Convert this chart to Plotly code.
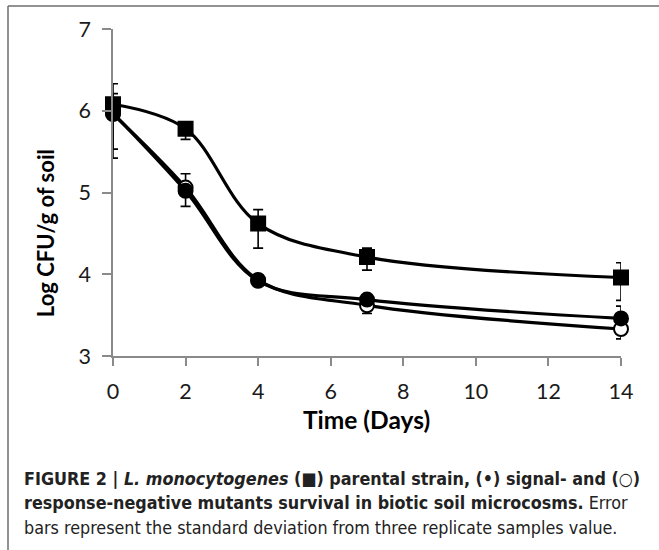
import plotly.graph_objects as go

# ---- data ----
days = [0, 2, 4, 7, 14]

parental = [6.08, 5.78, 4.62, 4.21, 3.96]
parental_plus = [0.05, 0.08, 0.17, 0.11, 0.18]
parental_minus = [0.05, 0.13, 0.30, 0.16, 0.28]

signal_neg = [5.97, 5.02, 3.92, 3.69, 3.46]
signal_plus = [0.36, 0.05, 0.05, 0.05, 0.15]
signal_minus = [0.55, 0.05, 0.05, 0.05, 0.05]

response_neg = [5.96, 5.06, 3.93, 3.62, 3.33]
response_plus = [0.25, 0.17, 0.05, 0.08, 0.05]
response_minus = [0.43, 0.23, 0.05, 0.10, 0.12]

x_ticks = [0, 2, 4, 6, 8, 10, 12, 14]
y_ticks = [3, 4, 5, 6, 7]

x_title = "Time (Days)"
y_title = "Log CFU/g of soil"
caption_lines = [
    "<b>FIGURE 2 | <i>L. monocytogenes</i> (■) parental strain, (•) signal- and (○)</b>",
    "<b>response-negative mutants survival in biotic soil microcosms.</b> Error",
    "bars represent the standard deviation from three replicate samples value.",
]

# ---- layout geometry ----
W, H = 659, 550
PL, PR, PT, PB = 113, 621, 29, 355.7


def px_x(px):
    return (px - PL) / (PR - PL)


def px_y(py):
    return (PB - py) / (PB - PT)


AX = "#8a8a8a"
TICKFONT = dict(family="Lato, Open Sans, sans-serif", size=21.5, color="#1a1a1a")

fig = go.Figure()


def add_series(y, plus, minus, symbol, fill, name):
    fig.add_trace(go.Scatter(
        x=days, y=y, name=name, mode="lines+markers",
        line=dict(color="black", width=3.2, shape="spline", smoothing=1.0),
        marker=dict(symbol=symbol, size=14, color=fill,
                    line=dict(color="black", width=2)),
        error_y=dict(type="data", symmetric=False, array=plus, arrayminus=minus,
                     color="black", thickness=1.6, width=5),
        cliponaxis=False,
        showlegend=False,
    ))


add_series(response_neg, response_plus, response_minus, "circle", "white", "response-negative")
add_series(signal_neg, signal_plus, signal_minus, "circle", "black", "signal-negative")
add_series(parental, parental_plus, parental_minus, "square", "black", "parental")

fig.update_layout(
    width=W, height=H, autosize=False,
    margin=dict(l=PL, r=W - PR, t=PT, b=H - PB, pad=0),
    paper_bgcolor="white", plot_bgcolor="white",
    xaxis=dict(
        range=[0, 14], tickvals=x_ticks, ticks="outside", ticklen=8,
        tickwidth=1.6, tickcolor=AX, showline=True, linecolor=AX, linewidth=1.6,
        showgrid=False, zeroline=False, tickfont=TICKFONT, ticklabelstandoff=7,
    ),
    yaxis=dict(
        range=[3, 7], tickvals=y_ticks, ticks="outside", ticklen=9,
        tickwidth=1.6, tickcolor=AX, showline=True, linecolor=AX, linewidth=1.6,
        showgrid=False, zeroline=False, tickfont=TICKFONT, ticklabelstandoff=7,
    ),
)

# x-axis title
fig.add_annotation(
    text=f"<b>{x_title}</b>", xref="paper", yref="paper",
    x=px_x(366), y=px_y(419), showarrow=False,
    xanchor="center", yanchor="middle",
    font=dict(family="Lato, Open Sans, sans-serif", size=24.5, color="black"),
)

# y-axis title (placed lower than centre, as in the reference)
fig.add_annotation(
    text=f"<b>{y_title}</b>", xref="paper", yref="paper",
    x=px_x(45), y=px_y(233), textangle=-90, showarrow=False,
    xanchor="center", yanchor="middle",
    font=dict(family="Lato, Open Sans, sans-serif", size=22, color="black"),
)

# caption
for line, py in zip(caption_lines, [478, 502, 527]):
    fig.add_annotation(
        text=line, xref="paper", yref="paper", x=px_x(22), y=px_y(py),
        xanchor="left", yanchor="middle", showarrow=False, align="left",
        font=dict(family="Liberation Sans Narrow, DejaVu Sans Condensed, sans-serif",
                  size=17.8, color="#222222"),
    )

# figure frame (top and left borders)
frame = dict(color="#6e6e6e", width=1.5)
fig.add_shape(type="line", xref="paper", yref="paper",
              x0=px_x(8), x1=px_x(W + 5), y0=px_y(6), y1=px_y(6), line=frame)
fig.add_shape(type="line", xref="paper", yref="paper",
              x0=px_x(8), x1=px_x(8), y0=px_y(6), y1=px_y(H + 5), line=frame)

fig.write_html("out.html",
               config={"displayModeBar": False},
               post_script="document.body.style.margin='0';document.body.style.overflow='hidden';")
